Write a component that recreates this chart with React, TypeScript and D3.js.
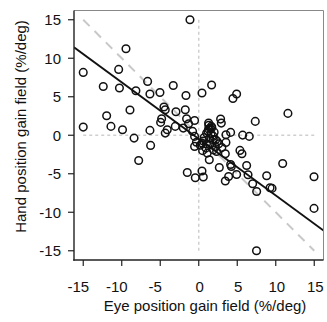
import React from "react";
import * as d3 from "d3";

const eyeGain = [
  -1.14, -9.45, -15.0, -10.4, -12.4, -10.3, -8.16, -6.64, -6.34, -5.04,
  -3.31, -1.66, 0.42, 1.67, 4.44, 4.92, 11.58, -8.93, -11.96, -15.0,
  -11.4, -9.9, -8.4, -6.34, -6.25, -7.8, -4.52, -4.35, -4.82, -4.95,
  -4.09, -4.35, -2.96, -1.75, -1.58, -3.05, -2.01, -1.32, -0.54, -0.8,
  -0.54, -0.54, 0.42, 0.93, 1.28, 1.28, 1.63, 1.02, 1.89, 1.89,
  2.15, 1.1, 1.37, 2.32, 2.84, 2.93, 3.53, 4.14, 3.53, 3.45,
  2.67, 4.14, 4.23, 3.45, 3.88, 4.92, 5.7, 6.56, 7.34, 5.35,
  5.61, 6.22, 6.4, 7.0, 7.52, 8.82, 9.26, 9.52, 10.9, 14.97,
  14.97, 7.5, -1.49, -0.45, 0.42, 0.59, 0.59, 1.45, 1.3, 1.5,
  1.2, 1.6, 2.0, 1.4, 2.4, 0.7, 0.2, -0.3, 1.0, 2.6,
  1.9, 0.5, 3.0, 1.7, 2.2
];

const handGain = [
  15.0, 11.23, 8.16, 8.55, 6.34, 6.13, 5.78, 6.99, 5.35, 5.56,
  6.47, 5.17, 5.48, 6.52, 4.78, 5.35, 2.84, 3.27, 2.53, 1.06,
  1.15, 0.71, -0.37, 0.63, -1.32, -3.27, 3.66, 3.31, 2.14, 1.67,
  0.71, 0.28, 3.05, 3.31, 2.14, 1.15, 0.93, 1.49, 1.92, 0.5,
  -0.15, -1.45, -1.02, -1.67, 1.58, 0.8, 1.15, 0.28, -0.15, -0.58,
  -1.45, -2.32, -3.18, -2.1, 2.1, 1.58, 0.06, 0.37, -0.93, -2.4,
  -4.18, -3.79, -4.05, -5.95, -5.35, -5.09, 0.02, -0.15, 1.8, -1.97,
  -2.4, -3.92, -5.13, -6.3, -7.3, -5.26, -6.82, -6.9, -3.66, -5.39,
  -9.5, -15.0, -4.83, -5.52, -4.65, -5.43, -0.76, -1.23, 1.3, 0.9,
  0.5, 0.2, 0.4, -0.4, -0.8, -0.3, -1.3, -0.9, -1.1, -1.1,
  -1.9, -2.0, -1.6, 1.0, -0.6
];

const tickValues = [-15, -10, -5, 0, 5, 10, 15];
const fitSlope = -0.734;
const fitIntercept = -0.47;
const xTitle = "Eye position gain field (%/deg)";
const yTitle = "Hand position gain field (%/deg)";

export default function App() {
  const left = 74, right = 323.5, top = 10.5, bottom = 260;
  const x = d3.scaleLinear().domain([-16.2, 16.2]).range([left, right]);
  const y = d3.scaleLinear().domain([-16.2, 16.2]).range([bottom, top]);
  const font = "'Liberation Sans', Arial, Helvetica, sans-serif";
  const pts = eyeGain.map((e, i) => [e, handGain[i]]);
  const xs = x.domain();
  return (
    <svg width={327} height={322} style={{ position: "absolute", left: 0, top: 0 }}>
      <rect x={0} y={0} width={327} height={322} fill="#fff" />
      <defs>
        <clipPath id="plotclip">
          <rect x={left} y={top} width={right - left} height={bottom - top} />
        </clipPath>
      </defs>
      {/* zero reference lines */}
      <line x1={x(0)} x2={x(0)} y1={y(15)} y2={y(-15)} stroke="#cfcfcf" strokeWidth={1.5} strokeDasharray="3,3" />
      <line x1={x(-15)} x2={x(15)} y1={y(0)} y2={y(0)} stroke="#cfcfcf" strokeWidth={1.5} strokeDasharray="3,3" />
      {/* identity (negative) diagonal */}
      <line x1={x(-15)} y1={y(15)} x2={x(15)} y2={y(-15)} stroke="#c8c8c8" strokeWidth={2} strokeDasharray="9,7" />
      {/* regression line */}
      <g clipPath="url(#plotclip)">
        <line
          x1={x(xs[0])}
          y1={y(fitIntercept + fitSlope * xs[0])}
          x2={x(xs[1])}
          y2={y(fitIntercept + fitSlope * xs[1])}
          stroke="#111"
          strokeWidth={1.8}
        />
      </g>
      {/* points */}
      {pts.map(([a, b], i) => (
        <circle key={i} cx={x(a)} cy={y(b)} r={3.8} fill="none" stroke="#111" strokeWidth={1.5} />
      ))}
      {/* frame */}
      <line x1={left} x2={right} y1={top} y2={top} stroke="#888" strokeWidth={1} />
      <line x1={right} x2={right} y1={top} y2={bottom} stroke="#888" strokeWidth={1} />
      <line x1={left} x2={left} y1={top} y2={bottom + 0.7} stroke="#222" strokeWidth={1.4} />
      <line x1={left - 0.7} x2={right} y1={bottom} y2={bottom} stroke="#222" strokeWidth={1.4} />
      {/* x ticks */}
      {tickValues.map((t) => (
        <g key={"x" + t}>
          <line x1={x(t)} x2={x(t)} y1={bottom} y2={bottom + 6} stroke="#222" strokeWidth={1.2} />
          <text x={x(t) + (t < 0 ? -5 : 1)} y={291.5} textAnchor="middle" fontFamily={font} fontSize={15} fill="#111">
            {t}
          </text>
        </g>
      ))}
      {/* y ticks */}
      {tickValues.map((t) => (
        <g key={"y" + t}>
          <line x1={left - 6} x2={left} y1={y(t)} y2={y(t)} stroke="#222" strokeWidth={1.2} />
          <text x={61} y={y(t)} dy="0.36em" textAnchor="end" fontFamily={font} fontSize={15} fill="#111">
            {t}
          </text>
        </g>
      ))}
      <text x={205} y={310.5} textAnchor="middle" fontFamily={font} fontSize={15} fill="#111">
        {xTitle}
      </text>
      <text
        transform={`translate(26,126.5) rotate(-90)`}
        textAnchor="middle"
        fontFamily={font}
        fontSize={15}
        fill="#111"
      >
        {yTitle}
      </text>
    </svg>
  );
}
